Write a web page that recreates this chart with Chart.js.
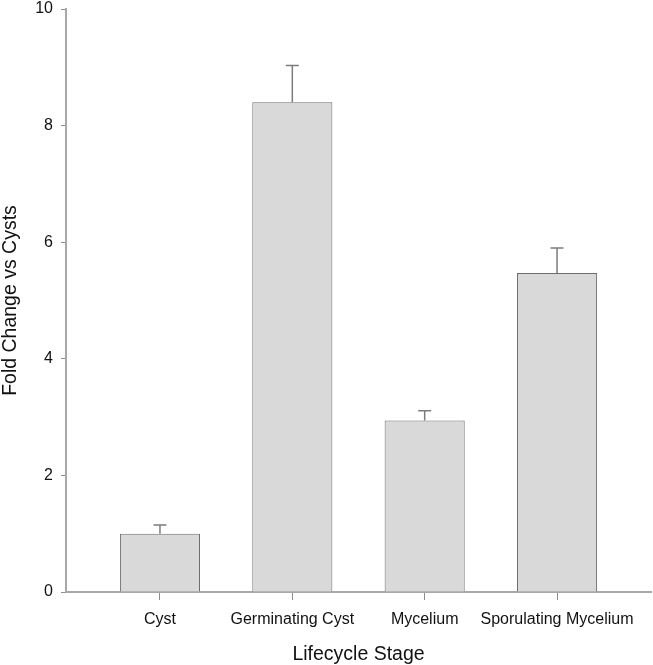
<!DOCTYPE html>
<html>
<head>
<meta charset="utf-8">
<script src="https://cdn.jsdelivr.net/npm/chart.js@4"></script>
<style>
  html, body { margin: 0; padding: 0; background: #fff; }
  #wrap { width: 653px; height: 665px; position: relative; }
</style>
</head>
<body>
<div id="wrap"><canvas id="c"></canvas></div>
<script>
const categories = ["Cyst", "Germinating Cyst", "Mycelium", "Sporulating Mycelium"];
const foldChange = [1.00, 8.40, 2.94, 5.47];
const errorUp = [0.15, 0.63, 0.17, 0.43];
const yTicks = [0, 2, 4, 6, 8, 10];

const FONT = "'Liberation Sans', Arial, sans-serif";

const errorBars = {
  id: 'errorBars',
  afterDatasetsDraw(chart) {
    const meta = chart.getDatasetMeta(0);
    const ys = chart.scales.y;
    const ctx = chart.ctx;
    ctx.save();
    ctx.strokeStyle = '#7c7c7c';
    ctx.lineWidth = 1.5;
    meta.data.forEach((bar, i) => {
      const x = bar.x;
      const yTop = ys.getPixelForValue(foldChange[i] + errorUp[i]);
      const yBase = ys.getPixelForValue(foldChange[i]);
      ctx.beginPath();
      ctx.moveTo(x, yBase);
      ctx.lineTo(x, yTop);
      ctx.moveTo(x - 6.5, yTop);
      ctx.lineTo(x + 6.5, yTop);
      ctx.stroke();
    });
    ctx.restore();
  }
};

new Chart(document.getElementById('c'), {
  type: 'bar',
  data: {
    datasets: [{
      data: categories.map((c, i) => ({ x: i + 1, y: foldChange[i] })),
      backgroundColor: '#d9d9d9',
      borderColor: '#6e6e6e',
      borderWidth: 1,
      barPercentage: 0.605,
      categoryPercentage: 1
    }]
  },
  options: {
    responsive: true,
    maintainAspectRatio: false,
    animation: false,
    devicePixelRatio: 1,
    layout: { padding: { top: 9, right: 2, left: 0, bottom: 0 } },
    plugins: { legend: { display: false }, tooltip: { enabled: false } },
    scales: {
      x: {
        type: 'linear',
        offset: false,
        min: 0.29,
        max: 4.71,
        afterBuildTicks(scale) {
          scale.ticks = categories.map((c, i) => ({ value: i + 1 }));
        },
        afterFit(scale) { scale.height = 73; scale.paddingLeft = 0; scale.paddingRight = 0; },
        ticks: {
          callback: (v) => categories[Math.round(v) - 1] || '',
          color: '#111',
          font: { family: FONT, size: 16 },
          padding: 10,
          maxRotation: 0,
          autoSkip: false
        },
        grid: { offset: false, drawOnChartArea: false, tickLength: 8, color: '#8c8c8c', lineWidth: 1 },
        border: { display: true, color: '#a8a8a8', width: 2 },
        title: {
          display: true,
          text: 'Lifecycle Stage',
          color: '#111',
          font: { family: FONT, size: 19.5, lineHeight: 1 },
          padding: { top: 0, bottom: 1 }
        }
      },
      y: {
        min: 0,
        max: 10,
        afterBuildTicks(scale) {
          scale.ticks = yTicks.map(v => ({ value: v }));
        },
        afterFit(scale) { scale.width = 66; scale.paddingTop = 0; scale.paddingBottom = 0; },
        ticks: {
          color: '#111',
          font: { family: FONT, size: 16 },
          padding: 8
        },
        grid: { drawOnChartArea: false, tickLength: 5, color: '#8c8c8c', lineWidth: 1 },
        border: { display: true, color: '#a8a8a8', width: 2 },
        title: {
          display: true,
          text: 'Fold Change vs Cysts',
          color: '#111',
          font: { family: FONT, size: 19.5, lineHeight: 1 },
          padding: { top: 1, bottom: 0 }
        }
      }
    }
  },
  plugins: [errorBars]
});
</script>
</body>
</html>
